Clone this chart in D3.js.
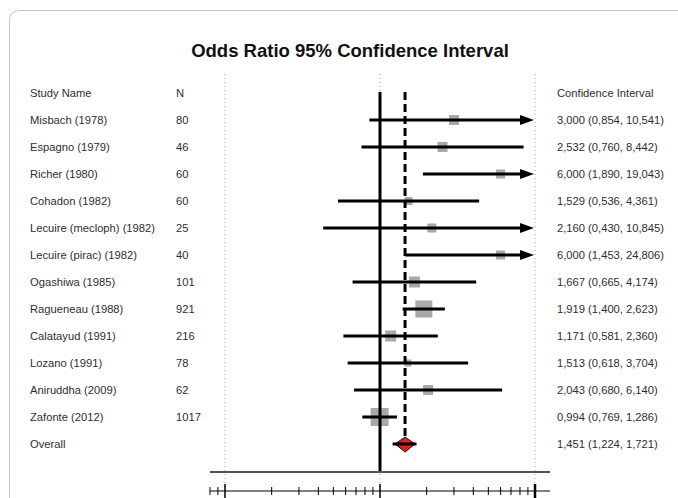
<!DOCTYPE html>
<html><head><meta charset="utf-8">
<script src="https://cdn.jsdelivr.net/npm/d3@7"></script>
<style>
html,body{margin:0;padding:0;background:#fff;}
text{font-family:"Liberation Sans",Arial,sans-serif;}
</style></head>
<body><svg id="chart" width="678" height="498"></svg>
<script>
const studies = ["Misbach (1978)","Espagno (1979)","Richer (1980)","Cohadon (1982)","Lecuire (mecloph) (1982)","Lecuire (pirac) (1982)","Ogashiwa (1985)","Ragueneau (1988)","Calatayud (1991)","Lozano (1991)","Aniruddha (2009)","Zafonte (2012)"];
const nValues = [80,46,60,60,25,40,101,921,216,78,62,1017];
const oddsRatio = [3.000,2.532,6.000,1.529,2.160,6.000,1.667,1.919,1.171,1.513,2.043,0.994];
const lowerCI = [0.854,0.760,1.890,0.536,0.430,1.453,0.665,1.400,0.581,0.618,0.680,0.769];
const upperCI = [10.541,8.442,19.043,4.361,10.845,24.806,4.174,2.623,2.360,3.704,6.140,1.286];
const relWeight = [6.6,6.6,5.4,4.2,5.4,5.4,8.0,19.1,8.0,3.2,6.6,21.4];
const overall = {label:"Overall", or:1.451, lo:1.224, hi:1.721};
const gridValues = [0.1,1,10];
const majorTicks = [0.1,1,10];
const minorTicks = [0.08,0.09,0.2,0.3,0.4,0.5,0.6,0.7,0.8,0.9,2,3,4,5,6,7,8,9];

const svg = d3.select("#chart");
const fmt = v => d3.format(".3f")(v).replace(".", ",");

// frame
svg.append("rect").attr("x",9.5).attr("y",10.5).attr("width",720).attr("height",540)
  .attr("rx",9).attr("fill","none").attr("stroke","#c4c4c4").attr("stroke-width",1);

svg.append("text").attr("x",350).attr("y",57).attr("text-anchor","middle")
  .attr("font-size",18.5).attr("font-weight","bold").attr("fill","#111")
  .text("Odds Ratio 95% Confidence Interval");

const x = d3.scaleLog().domain([0.1,10]).range([225,535]);
const rows = ["__header"].concat(studies, [overall.label]);
const y = d3.scalePoint().domain(rows).range([93,444]);
const xMin = 210, xMax = 550;

// gridlines
svg.append("g").selectAll("line").data(gridValues).join("line")
  .attr("x1",d=>x(d)).attr("x2",d=>x(d)).attr("y1",74).attr("y2",494)
  .attr("stroke","#9a9a9a").attr("stroke-width",1).attr("stroke-dasharray","1,3");

// text columns
const tg = svg.append("g").attr("font-size",11.2).attr("fill","#2e2e2e");
tg.append("text").attr("x",30).attr("y",y("__header")).attr("dy","0.35em").text("Study Name");
tg.append("text").attr("x",176).attr("y",y("__header")).attr("dy","0.35em").text("N");
tg.append("text").attr("x",557).attr("y",y("__header")).attr("dy","0.35em").text("Confidence Interval");
studies.forEach((s,i)=>{
  tg.append("text").attr("x",30).attr("y",y(s)).attr("dy","0.35em").text(s);
  tg.append("text").attr("x",176).attr("y",y(s)).attr("dy","0.35em").text(nValues[i]);
  tg.append("text").attr("x",557).attr("y",y(s)).attr("dy","0.35em")
    .text(`${fmt(oddsRatio[i])} (${fmt(lowerCI[i])}, ${fmt(upperCI[i])})`);
});
tg.append("text").attr("x",30).attr("y",y(overall.label)).attr("dy","0.35em").text(overall.label);
tg.append("text").attr("x",557).attr("y",y(overall.label)).attr("dy","0.35em")
  .text(`${fmt(overall.or)} (${fmt(overall.lo)}, ${fmt(overall.hi)})`);

// squares
const maxW = d3.max(relWeight);
const side = w => Math.sqrt(w/maxW)*18;
svg.append("g").selectAll("rect").data(studies).join("rect")
  .attr("x",(d,i)=>x(oddsRatio[i])-side(relWeight[i])/2)
  .attr("y",(d,i)=>y(d)-side(relWeight[i])/2)
  .attr("width",(d,i)=>side(relWeight[i])).attr("height",(d,i)=>side(relWeight[i]))
  .attr("fill","#a9a9a9");

// diamond
const yo = y(overall.label);
svg.append("path")
  .attr("d",`M${x(overall.or)-10},${yo} L${x(overall.or)},${yo-7} L${x(overall.or)+10},${yo} L${x(overall.or)},${yo+8} Z`)
  .attr("fill","#e0201c").attr("stroke","#111").attr("stroke-width",1);

// reference lines
svg.append("line").attr("x1",x(1)).attr("x2",x(1)).attr("y1",92).attr("y2",472)
  .attr("stroke","#000").attr("stroke-width",3);
svg.append("line").attr("x1",x(overall.or)).attr("x2",x(overall.or)).attr("y1",92).attr("y2",437)
  .attr("stroke","#000").attr("stroke-width",3).attr("stroke-dasharray","8,4");

// CI lines
const hg = svg.append("g");
studies.forEach((s,i)=>{
  const yy = y(s);
  const x0 = Math.max(xMin, x(lowerCI[i]));
  const over = upperCI[i] > 10;
  const x1 = over ? x(10)-1 : x(upperCI[i]);
  hg.append("line").attr("x1",x0).attr("x2",over ? x1-10 : x1).attr("y1",yy).attr("y2",yy)
    .attr("stroke","#000").attr("stroke-width",3);
  if (over) {
    hg.append("path").attr("d",`M${x1},${yy} L${x1-14},${yy-5} L${x1-14},${yy+5} Z`).attr("fill","#000");
  }
});
hg.append("line").attr("x1",x(overall.lo)-1).attr("x2",x(overall.hi)).attr("y1",yo).attr("y2",yo)
  .attr("stroke","#000").attr("stroke-width",3);

// plot bottom line
svg.append("line").attr("x1",xMin).attr("x2",xMax).attr("y1",472).attr("y2",472)
  .attr("stroke","#555").attr("stroke-width",2);

// axis
const axisY = 491;
svg.append("line").attr("x1",xMin).attr("x2",xMax).attr("y1",axisY).attr("y2",axisY)
  .attr("stroke","#000").attr("stroke-width",1.2);
svg.append("g").selectAll("line").data(minorTicks).join("line")
  .attr("x1",d=>x(d)).attr("x2",d=>x(d)).attr("y1",axisY-4).attr("y2",axisY+4)
  .attr("stroke","#000").attr("stroke-width",1);
svg.append("g").selectAll("line").data(majorTicks).join("line")
  .attr("x1",d=>x(d)).attr("x2",d=>x(d)).attr("y1",axisY-7).attr("y2",axisY+7)
  .attr("stroke","#000").attr("stroke-width",(d,i)=> i===2?2.5:1.5);
</script>
</body></html>
